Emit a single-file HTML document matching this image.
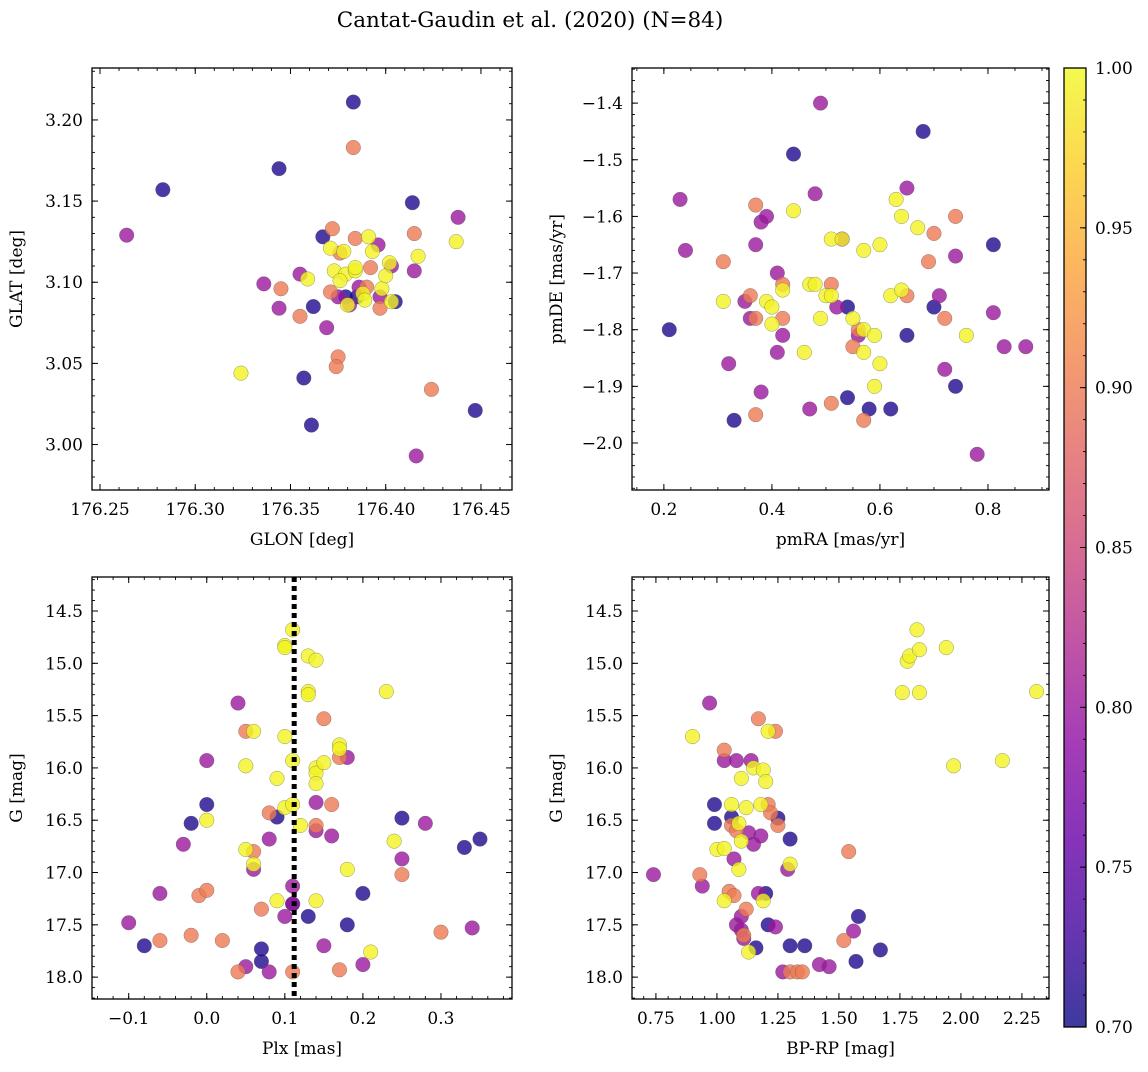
<!DOCTYPE html>
<html><head><meta charset="utf-8">
<style>
html,body{margin:0;padding:0;background:#fff;}
svg text{font-family:"DejaVu Serif","Liberation Serif",serif;fill:#000;}
</style></head>
<body>
<svg id="fig" width="1148" height="1067" viewBox="0 0 1148 1067" xmlns="http://www.w3.org/2000/svg">
<defs>
<linearGradient id="cbg" x1="0" y1="1" x2="0" y2="0">
<stop offset="0" stop-color="#0d0887"/><stop offset="0.1" stop-color="#41049d"/><stop offset="0.2" stop-color="#6a00a8"/><stop offset="0.3" stop-color="#8f0da4"/><stop offset="0.4" stop-color="#b12a90"/><stop offset="0.5" stop-color="#cc4778"/><stop offset="0.6" stop-color="#e16462"/><stop offset="0.7" stop-color="#f2844b"/><stop offset="0.8" stop-color="#fca636"/><stop offset="0.9" stop-color="#fcce25"/><stop offset="1" stop-color="#f0f921"/>
</linearGradient>
</defs>
<text x="530" y="27" font-size="21.5" text-anchor="middle">Cantat-Gaudin et al. (2020) (N=84)</text>
</svg>
<script>
// ---------- data ----------
const tlX=[176.283,176.344,176.383,176.414,176.367,176.362,176.357,176.361,176.447,176.385,176.405,176.379,
176.264,176.336,176.344,176.355,176.438,176.415,176.416,176.369,176.381,176.396,176.403,176.375,176.397,176.386,
176.383,176.345,176.355,176.375,176.374,176.424,176.415,176.371,176.372,176.384,176.390,176.397,176.376,176.392,
176.324,176.359,176.371,176.373,176.379,176.384,176.391,176.393,176.398,176.400,176.402,176.403,176.388,176.380,176.376,176.417,176.437,176.384,176.389,176.378];
const tlY=[3.157,3.170,3.211,3.149,3.128,3.085,3.041,3.012,3.021,3.091,3.088,3.091,
3.129,3.099,3.084,3.105,3.140,3.107,2.993,3.072,3.086,3.123,3.110,3.091,3.091,3.097,
3.183,3.096,3.079,3.054,3.048,3.034,3.130,3.094,3.133,3.127,3.097,3.084,3.118,3.109,
3.044,3.102,3.121,3.107,3.105,3.107,3.128,3.119,3.096,3.104,3.112,3.088,3.093,3.086,3.101,3.116,3.125,3.109,3.089,3.119];
const tlP=[0.71,0.71,0.71,0.71,0.71,0.71,0.71,0.71,0.71,0.71,0.71,0.71,
0.80,0.80,0.80,0.80,0.80,0.80,0.80,0.80,0.80,0.80,0.80,0.80,0.80,0.80,
0.90,0.90,0.90,0.90,0.90,0.90,0.90,0.90,0.90,0.90,0.90,0.90,0.90,0.90,
0.995,0.995,0.995,0.995,0.995,0.995,0.995,0.995,0.995,0.995,0.995,0.995,0.995,0.995,0.995,0.995,0.995,0.995,0.995,0.995];

const trX=[0.68,0.44,0.81,0.21,0.33,0.54,0.54,0.58,0.62,0.65,0.70,0.74,
0.49,0.23,0.24,0.38,0.39,0.37,0.48,0.65,0.74,0.71,0.41,0.35,0.36,0.32,0.38,0.41,0.42,0.47,0.52,0.53,0.72,0.78,0.81,0.83,0.87,0.56,
0.31,0.37,0.42,0.42,0.37,0.37,0.51,0.51,0.55,0.56,0.57,0.65,0.69,0.70,0.72,0.74,0.36,
0.31,0.39,0.40,0.40,0.42,0.44,0.46,0.47,0.48,0.49,0.50,0.51,0.51,0.53,0.55,0.57,0.57,0.57,0.59,0.59,0.60,0.60,0.62,0.63,0.64,0.64,0.67,0.76];
const trY=[-1.45,-1.49,-1.65,-1.80,-1.96,-1.76,-1.92,-1.94,-1.94,-1.81,-1.76,-1.90,
-1.40,-1.57,-1.66,-1.61,-1.60,-1.65,-1.56,-1.55,-1.67,-1.74,-1.70,-1.75,-1.78,-1.86,-1.91,-1.84,-1.81,-1.94,-1.76,-1.64,-1.87,-2.02,-1.77,-1.83,-1.83,-1.81,
-1.68,-1.58,-1.72,-1.78,-1.78,-1.95,-1.72,-1.93,-1.83,-1.80,-1.96,-1.74,-1.68,-1.63,-1.78,-1.60,-1.74,
-1.75,-1.75,-1.79,-1.76,-1.73,-1.59,-1.84,-1.72,-1.72,-1.78,-1.74,-1.74,-1.64,-1.64,-1.78,-1.80,-1.84,-1.66,-1.81,-1.90,-1.86,-1.65,-1.74,-1.57,-1.60,-1.73,-1.62,-1.81];
const trP=[0.71,0.71,0.71,0.71,0.71,0.71,0.71,0.71,0.71,0.71,0.71,0.71,
0.80,0.80,0.80,0.80,0.80,0.80,0.80,0.80,0.80,0.80,0.80,0.80,0.80,0.80,0.80,0.80,0.80,0.80,0.80,0.80,0.80,0.80,0.80,0.80,0.80,0.80,
0.90,0.90,0.90,0.90,0.90,0.90,0.90,0.90,0.90,0.90,0.90,0.90,0.90,0.90,0.90,0.90,0.90,
0.995,0.995,0.995,0.995,0.995,0.995,0.995,0.995,0.995,0.995,0.995,0.995,0.995,0.995,0.995,0.995,0.995,0.995,0.995,0.995,0.995,0.995,0.995,0.995,0.995,0.995,0.995,0.995];

const blX=[-0.08,-0.02,0.0,0.07,0.07,0.09,0.13,0.18,0.20,0.25,0.33,0.35,0.11,
-0.10,-0.06,-0.03,0.0,0.04,0.05,0.06,0.08,0.08,0.10,0.11,0.14,0.14,0.15,0.16,0.18,0.20,0.25,0.28,0.34,0.11,
-0.06,-0.01,0.0,-0.02,0.02,0.04,0.05,0.06,0.07,0.08,0.11,0.15,0.16,0.17,0.17,0.25,0.30,0.14,
0.0,0.05,0.05,0.06,0.06,0.09,0.09,0.10,0.10,0.11,0.10,0.10,0.11,0.11,0.12,0.13,0.13,0.13,0.14,0.14,0.14,0.14,0.14,0.17,0.17,0.18,0.21,0.23,0.24,0.15];
const blY=[17.70,16.53,16.35,17.73,17.85,16.47,17.42,17.50,17.20,16.48,16.76,16.68,17.30,
17.48,17.20,16.73,15.93,15.38,17.90,16.97,16.68,17.95,17.42,17.13,16.33,16.60,17.70,16.65,15.90,17.88,16.87,16.53,17.53,17.30,
17.65,17.22,17.17,17.60,17.65,17.95,15.65,16.80,17.35,16.43,17.95,15.53,16.35,15.90,17.93,17.02,17.57,16.55,
16.50,16.78,15.98,15.65,16.92,16.10,17.27,14.83,14.85,14.68,15.70,16.38,16.35,15.93,16.55,14.93,15.27,15.30,14.97,16.00,16.05,16.15,17.27,15.78,15.82,16.97,17.76,15.27,16.70,15.95];
const blP=[0.71,0.71,0.71,0.71,0.71,0.71,0.71,0.71,0.71,0.71,0.71,0.71,0.71,
0.80,0.80,0.80,0.80,0.80,0.80,0.80,0.80,0.80,0.80,0.80,0.80,0.80,0.80,0.80,0.80,0.80,0.80,0.80,0.80,0.80,
0.90,0.90,0.90,0.90,0.90,0.90,0.90,0.90,0.90,0.90,0.90,0.90,0.90,0.90,0.90,0.90,0.90,0.90,
0.995,0.995,0.995,0.995,0.995,0.995,0.995,0.995,0.995,0.995,0.995,0.995,0.995,0.995,0.995,0.995,0.995,0.995,0.995,0.995,0.995,0.995,0.995,0.995,0.995,0.995,0.995,0.995,0.995,0.995];

const brX=[0.99,0.99,1.06,1.16,1.20,1.21,1.25,1.30,1.30,1.36,1.57,1.58,1.67,
0.74,0.97,0.94,1.03,1.08,1.07,1.08,1.10,1.10,1.11,1.13,1.15,1.18,1.17,1.27,1.24,1.29,1.42,1.46,1.56,1.14,
0.93,1.03,1.05,1.07,1.11,1.12,1.17,1.21,1.22,1.24,1.25,1.30,1.33,1.35,1.54,1.52,1.06,1.08,
0.90,1.00,1.03,1.06,1.09,1.10,1.09,1.10,1.12,1.15,1.18,1.19,1.20,1.19,1.21,1.30,1.13,1.76,1.78,1.79,1.82,1.83,1.83,1.94,1.97,2.17,2.31,1.03];
const brY=[16.35,16.53,16.47,17.72,17.20,17.50,16.48,17.70,16.68,17.70,17.85,17.42,17.74,
17.02,15.38,17.13,15.93,15.93,16.87,17.50,17.55,17.42,17.63,16.62,16.73,16.65,17.20,17.95,17.52,16.97,17.88,17.90,17.56,15.93,
17.02,15.83,17.18,17.22,17.60,17.35,15.53,16.35,16.43,15.65,16.55,17.95,17.95,17.95,16.80,17.65,16.55,16.60,
15.70,16.78,17.27,16.35,16.53,16.10,16.97,16.70,16.38,16.00,16.35,16.02,16.13,17.27,15.65,16.92,17.76,15.28,14.98,14.93,14.68,14.87,15.28,14.85,15.98,15.93,15.27,16.77];
const brP=[0.71,0.71,0.71,0.71,0.71,0.71,0.71,0.71,0.71,0.71,0.71,0.71,0.71,
0.80,0.80,0.80,0.80,0.80,0.80,0.80,0.80,0.80,0.80,0.80,0.80,0.80,0.80,0.80,0.80,0.80,0.80,0.80,0.80,0.80,
0.90,0.90,0.90,0.90,0.90,0.90,0.90,0.90,0.90,0.90,0.90,0.90,0.90,0.90,0.90,0.90,0.90,0.90,
0.995,0.995,0.995,0.995,0.995,0.995,0.995,0.995,0.995,0.995,0.995,0.995,0.995,0.995,0.995,0.995,0.995,0.995,0.995,0.995,0.995,0.995,0.995,0.995,0.995,0.995,0.995,0.995];

const plxRef=[0.112];
const tlXTicks=[176.25,176.30,176.35,176.40,176.45];
const tlYTicks=[3.00,3.05,3.10,3.15,3.20];
const trXTicks=[0.2,0.4,0.6,0.8];
const trYTicks=[-2.0,-1.9,-1.8,-1.7,-1.6,-1.5,-1.4];
const blXTicks=[-0.1,0.0,0.1,0.2,0.3];
const gTicks=[14.5,15.0,15.5,16.0,16.5,17.0,17.5,18.0];
const brXTicks=[0.75,1.00,1.25,1.50,1.75,2.00,2.25];
const cbTicks=[0.70,0.75,0.80,0.85,0.90,0.95,1.00];

// ---------- helpers ----------
const NS='http://www.w3.org/2000/svg';
const svg=document.getElementById('fig');
function mk(tag,attrs,parent){const e=document.createElementNS(NS,tag);for(const k in attrs)e.setAttribute(k,attrs[k]);(parent||svg).appendChild(e);return e;}
const stops=[[13,8,135],[65,4,157],[106,0,168],[143,13,164],[177,42,144],[204,71,120],[225,100,98],[242,132,75],[252,166,54],[252,206,37],[240,249,33]];
function plasma(t){t=Math.max(0,Math.min(1,t));const f=t*10;const i=Math.min(9,Math.floor(f));const u=f-i;const a=stops[i],b=stops[i+1];
return 'rgb('+[0,1,2].map(k=>Math.round(a[k]+(b[k]-a[k])*u)).join(',')+')';}
function lin(d0,d1,r0,r1){return v=>r0+(v-d0)/(d1-d0)*(r1-r0);}
function fmt(v,d){let s=v.toFixed(d);if(v<-1e-9)s='\u2212'+s.slice(1);return s;}

function panel(o){
  const g=mk('g',{});
  
  
  const sx=lin(o.xd[0],o.xd[1],o.L,o.R), sy=lin(o.yd[0],o.yd[1],o.B,o.T);
  const idx=o.x.map((_,i)=>i).sort((a,b)=>o.p[a]-o.p[b]);
  const pts=mk('g',{},g);
  
  
  idx.forEach(i=>{
    const c=mk('circle',{cx:sx(o.x[i]),cy:sy(o.y[i]),r:7.3,fill:plasma((o.p[i]-0.7)/0.3),'fill-opacity':0.8,stroke:'#555','stroke-opacity':0.6,'stroke-width':0.5},pts);
    
    
  });
  if(o.extra)o.extra(g,sx,sy);
  const fr=mk('rect',{x:o.L,y:o.T,width:o.R-o.L,height:o.B-o.T,fill:'none',stroke:'#000','stroke-width':1.3},g);
  
  
  const tk=mk('g',{stroke:'#000'},g);
  
  
  const eps=1e-9;
  for(let v=Math.ceil(o.xd[0]/o.xm-eps)*o.xm;v<=o.xd[1]+eps;v+=o.xm){const X=sx(v);
    mk('line',{x1:X,x2:X,y1:o.B,y2:o.B-3,'stroke-width':0.9},tk);mk('line',{x1:X,x2:X,y1:o.T,y2:o.T+3,'stroke-width':0.9},tk);}
  for(let v=Math.ceil(Math.min(o.yd[0],o.yd[1])/o.ym-eps)*o.ym;v<=Math.max(o.yd[0],o.yd[1])+eps;v+=o.ym){const Y=sy(v);
    mk('line',{y1:Y,y2:Y,x1:o.L,x2:o.L+3,'stroke-width':0.9},tk);mk('line',{y1:Y,y2:Y,x1:o.R,x2:o.R-3,'stroke-width':0.9},tk);}
  o.xt.forEach(v=>{const X=sx(v);
    mk('line',{x1:X,x2:X,y1:o.B,y2:o.B-6,'stroke-width':1},tk);mk('line',{x1:X,x2:X,y1:o.T,y2:o.T+6,'stroke-width':1},tk);
    const t=mk('text',{x:X,y:o.B+25,'font-size':17,'text-anchor':'middle'},g);t.textContent=fmt(v,o.xdp);
    
    });
  o.yt.forEach(v=>{const Y=sy(v);
    mk('line',{y1:Y,y2:Y,x1:o.L,x2:o.L+6,'stroke-width':1},tk);mk('line',{y1:Y,y2:Y,x1:o.R,x2:o.R-6,'stroke-width':1},tk);
    const t=mk('text',{x:o.L-9,y:Y+6,'font-size':17,'text-anchor':'end'},g);t.textContent=fmt(v,o.ydp);
    
    });
  const xl=mk('text',{x:(o.L+o.R)/2,y:o.B+55,'font-size':17,'text-anchor':'middle'},g);xl.textContent=o.xlab;
  
  
  const yx=o.L-70,yy=(o.T+o.B)/2;
  const yl=mk('text',{x:yx,y:yy,'font-size':17,'text-anchor':'middle',transform:'rotate(-90 '+yx+' '+yy+')'},g);yl.textContent=o.ylab;
  
  
}

panel({name:'glon-glat-panel',L:92,R:512,T:68,B:490,xd:[176.2458,176.4663],yd:[2.972,3.232],x:tlX,y:tlY,p:tlP,
  xt:tlXTicks,yt:tlYTicks,xm:0.01,ym:0.01,xdp:2,ydp:2,xlab:'GLON [deg]',ylab:'GLAT [deg]'});
panel({name:'proper-motion-panel',L:632,R:1049,T:68,B:490,xd:[0.141,0.913],yd:[-2.083,-1.338],x:trX,y:trY,p:trP,
  xt:trXTicks,yt:trYTicks,xm:0.05,ym:0.02,xdp:1,ydp:1,xlab:'pmRA [mas/yr]',ylab:'pmDE [mas/yr]'});
panel({name:'plx-g-panel',L:92,R:512,T:577,B:999,xd:[-0.147,0.391],yd:[18.209,14.175],x:blX,y:blY,p:blP,
  xt:blXTicks,yt:gTicks,xm:0.02,ym:0.1,xdp:1,ydp:1,xlab:'Plx [mas]',ylab:'G [mag]',
  extra:(g,sx,sy)=>{plxRef.forEach(v=>{const l=mk('line',{x1:sx(v),x2:sx(v),y1:577,y2:999,stroke:'#000','stroke-width':5,'stroke-dasharray':'5 4'},g);
    
    });}});
panel({name:'cmd-panel',L:632,R:1049,T:577,B:999,xd:[0.652,2.361],yd:[18.209,14.175],x:brX,y:brY,p:brP,
  xt:brXTicks,yt:gTicks,xm:0.05,ym:0.1,xdp:2,ydp:1,xlab:'BP-RP [mag]',ylab:'G [mag]'});

(function(){
  const L=1064,R=1086,T=68,B=1027;
  const g=mk('g',{});
  
  
  const r=mk('rect',{x:L,y:T,width:R-L,height:B-T,fill:'url(#cbg)','fill-opacity':0.8},g);
  
  
  mk('rect',{x:L,y:T,width:R-L,height:B-T,fill:'none',stroke:'#000','stroke-width':1.3},g);
  const sy=lin(0.7,1.0,B,T);
  for(let i=0;i<=30;i++){const Y=sy(0.7+i*0.01);mk('line',{x1:R,x2:R-3,y1:Y,y2:Y,stroke:'#000','stroke-width':0.9},g);}
  cbTicks.forEach(v=>{const Y=sy(v);mk('line',{x1:R,x2:R-6,y1:Y,y2:Y,stroke:'#000','stroke-width':1},g);
    const t=mk('text',{x:R+9,y:Y+6,'font-size':17},g);t.textContent=v.toFixed(2);
    
    });
})();
</script>
</body></html>
